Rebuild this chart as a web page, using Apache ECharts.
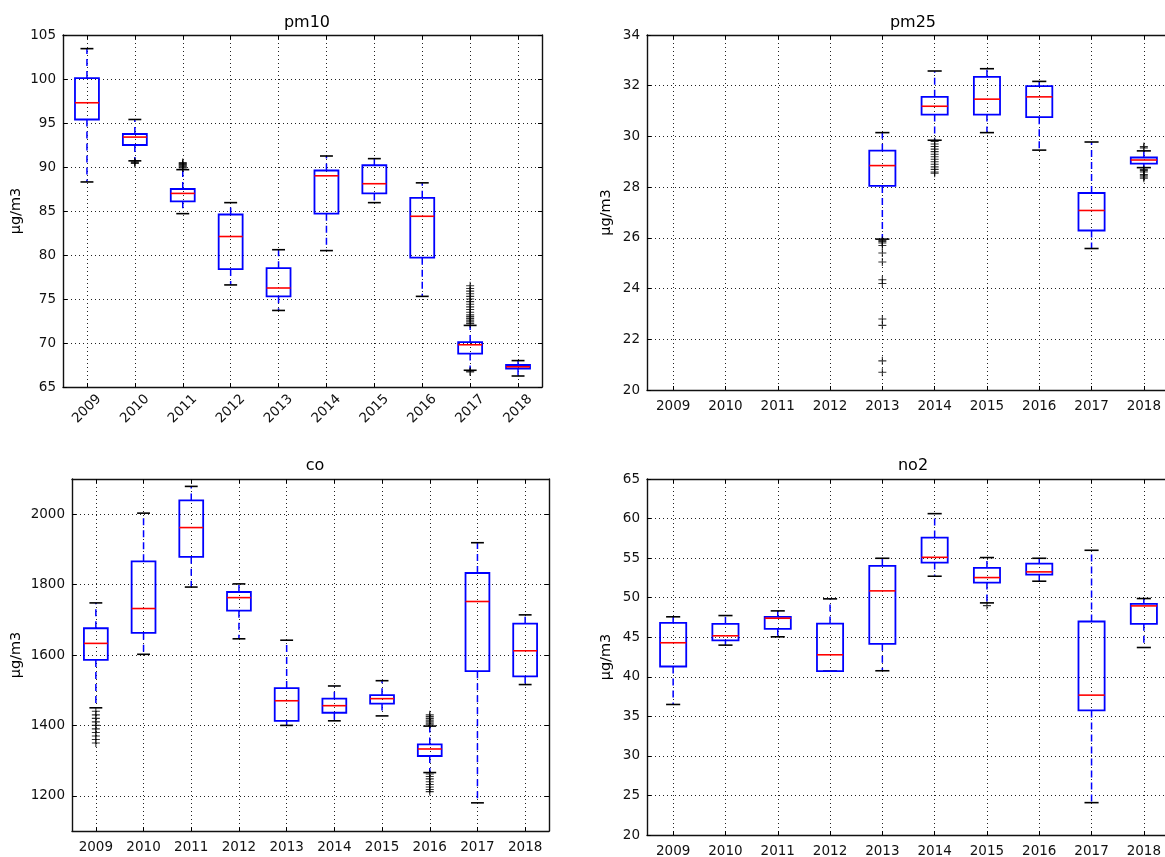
<!DOCTYPE html>
<html><head><meta charset="utf-8">
<script src="https://cdn.jsdelivr.net/npm/echarts@6/dist/echarts.min.js"></script>
<style>html,body{margin:0;padding:0;background:#fff}#c{width:1165px;height:857px}</style>
</head><body><div id="c"></div>
<script>
const years = ['2009','2010','2011','2012','2013','2014','2015','2016','2017','2018'];

// box stats per year: [lower whisker, Q1, median, Q3, upper whisker]
const pm10Box = [
  [88.3, 95.4, 97.3, 100.1, 103.45],
  [90.7, 92.5, 93.4, 93.75, 95.4],
  [84.7, 86.1, 87.0, 87.5, 89.7],
  [76.6, 78.4, 82.1, 84.6, 85.95],
  [73.7, 75.3, 76.25, 78.5, 80.6],
  [80.5, 84.7, 89.0, 89.6, 91.25],
  [85.95, 87.0, 88.1, 90.2, 90.95],
  [75.3, 79.7, 84.4, 86.5, 88.2],
  [66.9, 68.8, 69.8, 70.1, 72.0],
  [66.25, 67.1, 67.3, 67.5, 68.0]
];
const pm10Outliers = [
  ['2010', 90.6], ['2010', 90.5], ['2010', 90.4],
  ['2011', 89.9], ['2011', 90.0], ['2011', 90.1], ['2011', 90.2], ['2011', 90.3], ['2011', 90.4], ['2011', 90.5],
  ['2017', 72.2], ['2017', 72.4], ['2017', 72.6], ['2017', 72.8], ['2017', 73.0], ['2017', 73.2], ['2017', 73.5],
  ['2017', 73.8], ['2017', 74.1], ['2017', 74.4], ['2017', 74.7], ['2017', 75.0], ['2017', 75.3], ['2017', 75.6],
  ['2017', 75.9], ['2017', 76.2], ['2017', 76.5], ['2017', 66.8], ['2017', 66.7]
];
const pm10YTicks = [65, 70, 75, 80, 85, 90, 95, 100, 105];

const pm25Box = [
  null, null, null, null,
  [25.95, 28.05, 28.85, 29.44, 30.15],
  [29.85, 30.86, 31.19, 31.56, 32.58],
  [30.15, 30.86, 31.47, 32.35, 32.67],
  [29.46, 30.76, 31.56, 31.98, 32.17],
  [25.58, 26.29, 27.08, 27.77, 29.78],
  [28.77, 28.93, 29.07, 29.17, 29.43]
];
const pm25Outliers = [
  ['2013', 25.9], ['2013', 25.85], ['2013', 25.8], ['2013', 25.7], ['2013', 25.4], ['2013', 25.05],
  ['2013', 24.35], ['2013', 24.2], ['2013', 22.8], ['2013', 22.55], ['2013', 21.15], ['2013', 20.7],
  ['2014', 29.8], ['2014', 29.7], ['2014', 29.6], ['2014', 29.5], ['2014', 29.4], ['2014', 29.3], ['2014', 29.2],
  ['2014', 29.1], ['2014', 29.0], ['2014', 28.9], ['2014', 28.8], ['2014', 28.7], ['2014', 28.6], ['2014', 28.55],
  ['2018', 29.55], ['2018', 29.6], ['2018', 28.7], ['2018', 28.65], ['2018', 28.6], ['2018', 28.5],
  ['2018', 28.45], ['2018', 28.4], ['2018', 28.35]
];
const pm25YTicks = [20, 22, 24, 26, 28, 30, 32, 34];

const coBox = [
  [1450, 1586, 1633, 1676, 1748],
  [1602, 1663, 1732, 1866, 2003],
  [1793, 1879, 1962, 2039, 2079],
  [1646, 1726, 1763, 1779, 1802],
  [1400, 1413, 1470, 1506, 1642],
  [1413, 1436, 1456, 1476, 1512],
  [1427, 1462, 1476, 1486, 1527],
  [1266, 1313, 1333, 1346, 1398],
  [1180, 1554, 1752, 1833, 1919],
  [1516, 1539, 1612, 1689, 1714]
];
const coOutliers = [
  ['2009', 1440], ['2009', 1430], ['2009', 1420], ['2009', 1410], ['2009', 1400], ['2009', 1390],
  ['2009', 1380], ['2009', 1370], ['2009', 1360], ['2009', 1350],
  ['2016', 1402], ['2016', 1406], ['2016', 1410], ['2016', 1415], ['2016', 1420], ['2016', 1425], ['2016', 1430],
  ['2016', 1262], ['2016', 1255], ['2016', 1248], ['2016', 1240], ['2016', 1232], ['2016', 1225], ['2016', 1218], ['2016', 1212]
];
const coYTicks = [1200, 1400, 1600, 1800, 2000];

const no2Box = [
  [36.5, 41.3, 44.3, 46.82, 47.58],
  [44.0, 44.59, 45.18, 46.69, 47.74],
  [45.05, 46.06, 47.4, 47.58, 48.33],
  [40.72, 40.72, 42.78, 46.73, 49.85],
  [40.76, 44.17, 50.86, 54.02, 54.98],
  [52.71, 54.44, 55.1, 57.59, 60.62],
  [49.34, 51.91, 52.54, 53.76, 55.07],
  [52.08, 52.92, 53.26, 54.31, 54.98],
  [24.09, 35.75, 37.68, 46.99, 55.99],
  [43.7, 46.69, 48.96, 49.22, 49.89]
];
const no2Outliers = [['2015', 49.0]];
const no2YTicks = [20, 25, 30, 35, 40, 45, 50, 55, 60, 65];

const FONT = 'DejaVu Sans';
const LABEL_SIZE = 13.5;
const panels = [
  {title: 'pm10', box: pm10Box, out: pm10Outliers, ticks: pm10YTicks, min: 65, max: 105,
   grid: {left: 63, top: 35, width: 479, height: 352}, rotate: true, nameGap: 39, tx: 302, ty: 10},
  {title: 'pm25', box: pm25Box, out: pm25Outliers, ticks: pm25YTicks, min: 20, max: 34,
   grid: {left: 647, top: 35, width: 523, height: 355}, rotate: false, nameGap: 33, tx: 908, ty: 10},
  {title: 'co', box: coBox, out: coOutliers, ticks: coYTicks, min: 1100, max: 2100,
   grid: {left: 72, top: 479, width: 477, height: 352}, rotate: false, nameGap: 48, tx: 310, ty: 453},
  {title: 'no2', box: no2Box, out: no2Outliers, ticks: no2YTicks, min: 20, max: 65,
   grid: {left: 647, top: 479, width: 523, height: 356}, rotate: false, nameGap: 33, tx: 908, ty: 453}
];

function renderBox(params, api) {
  const x = api.value(0);
  const lo = api.coord([x, api.value(1)]);
  const q1 = api.coord([x, api.value(2)]);
  const md = api.coord([x, api.value(3)]);
  const q3 = api.coord([x, api.value(4)]);
  const hi = api.coord([x, api.value(5)]);
  const band = api.size([1, 0])[0];
  const bw = band * 0.5, cw = band * 0.27, cx = lo[0];
  const blue = '#0000ff';
  return {type: 'group', children: [
    {type: 'line', shape: {x1: cx, y1: q1[1], x2: cx, y2: lo[1]}, style: {stroke: blue, lineWidth: 1.5, lineDash: [7, 5]}},
    {type: 'line', shape: {x1: cx, y1: q3[1], x2: cx, y2: hi[1]}, style: {stroke: blue, lineWidth: 1.5, lineDash: [7, 5]}},
    {type: 'line', shape: {x1: cx - cw / 2, y1: lo[1], x2: cx + cw / 2, y2: lo[1]}, style: {stroke: '#000', lineWidth: 1.6}},
    {type: 'line', shape: {x1: cx - cw / 2, y1: hi[1], x2: cx + cw / 2, y2: hi[1]}, style: {stroke: '#000', lineWidth: 1.6}},
    {type: 'rect', shape: {x: cx - bw / 2, y: q3[1], width: bw, height: q1[1] - q3[1]}, style: {fill: 'none', stroke: blue, lineWidth: 1.8}},
    {type: 'line', shape: {x1: cx - bw / 2, y1: md[1], x2: cx + bw / 2, y2: md[1]}, style: {stroke: '#ff0000', lineWidth: 1.6}}
  ]};
}

const option = {
  animation: false,
  backgroundColor: '#fff',
  title: [], grid: [], xAxis: [], yAxis: [], series: []
};
const axLine = {show: true, lineStyle: {color: '#111', width: 1.4}};
const tick = {show: true, inside: true, length: 4, alignWithLabel: true, lineStyle: {color: '#000', width: 1}};
const gridLine = {show: true, alignWithLabel: true, lineStyle: {color: '#222', width: 1, type: [1, 3]}};

panels.forEach((p, i) => {
  option.title.push({text: p.title, left: p.tx, top: p.ty, textAlign: 'center',
    textStyle: {fontFamily: FONT, fontWeight: 'normal', fontSize: 16, color: '#000'}});
  option.grid.push(Object.assign({show: false, containLabel: false, outerBoundsMode: 'none'}, p.grid));
  const labelX = p.rotate
    ? {show: true, rotate: 45, align: 'center', verticalAlign: 'middle', margin: 22, fontFamily: FONT, fontSize: LABEL_SIZE, color: '#111', interval: 0}
    : {show: true, margin: 9, fontFamily: FONT, fontSize: LABEL_SIZE, color: '#111', interval: 0};
  option.xAxis.push({type: 'category', gridIndex: i, data: years, boundaryGap: true, position: 'bottom',
    axisLine: axLine, axisTick: tick, splitLine: gridLine, axisLabel: labelX});
  option.xAxis.push({type: 'category', gridIndex: i, data: years, boundaryGap: true, position: 'top',
    axisLine: axLine, axisTick: tick, splitLine: {show: false}, axisLabel: {show: false}});
  option.yAxis.push({type: 'value', gridIndex: i, min: p.min, max: p.max, position: 'left',
    name: 'μg/m3', nameLocation: 'middle', nameRotate: 90, nameGap: p.nameGap, nameMoveOverlap: false,
    nameTextStyle: {fontFamily: FONT, fontSize: 14.5, color: '#000'},
    axisLine: axLine,
    axisTick: Object.assign({}, tick, {customValues: p.ticks}),
    splitLine: gridLine,
    axisLabel: {show: true, customValues: p.ticks, margin: 7, fontFamily: FONT, fontSize: LABEL_SIZE, color: '#111',
      showMinLabel: true, showMaxLabel: true, formatter: v => String(v)}});
  option.yAxis.push({type: 'value', gridIndex: i, min: p.min, max: p.max, position: 'right',
    axisLine: axLine,
    axisTick: Object.assign({}, tick, {customValues: p.ticks}),
    splitLine: {show: false}, axisLabel: {show: false}});
  const data = [];
  p.box.forEach((s, k) => { if (s) data.push([k].concat(s)); });
  option.series.push({type: 'custom', xAxisIndex: 2 * i, yAxisIndex: 2 * i, renderItem: renderBox,
    encode: {x: 0, y: [1, 2, 3, 4, 5]}, data: data, z: 3});
  option.series.push({type: 'scatter', xAxisIndex: 2 * i, yAxisIndex: 2 * i, data: p.out,
    symbol: 'path://M5,0L5,10M0,5L10,5', symbolSize: 8,
    itemStyle: {color: 'none', borderColor: '#000', borderWidth: 1.1}, z: 4});
});

const chart = echarts.init(document.getElementById('c'), null, {renderer: 'canvas'});
chart.setOption(option);
</script>
</body></html>
